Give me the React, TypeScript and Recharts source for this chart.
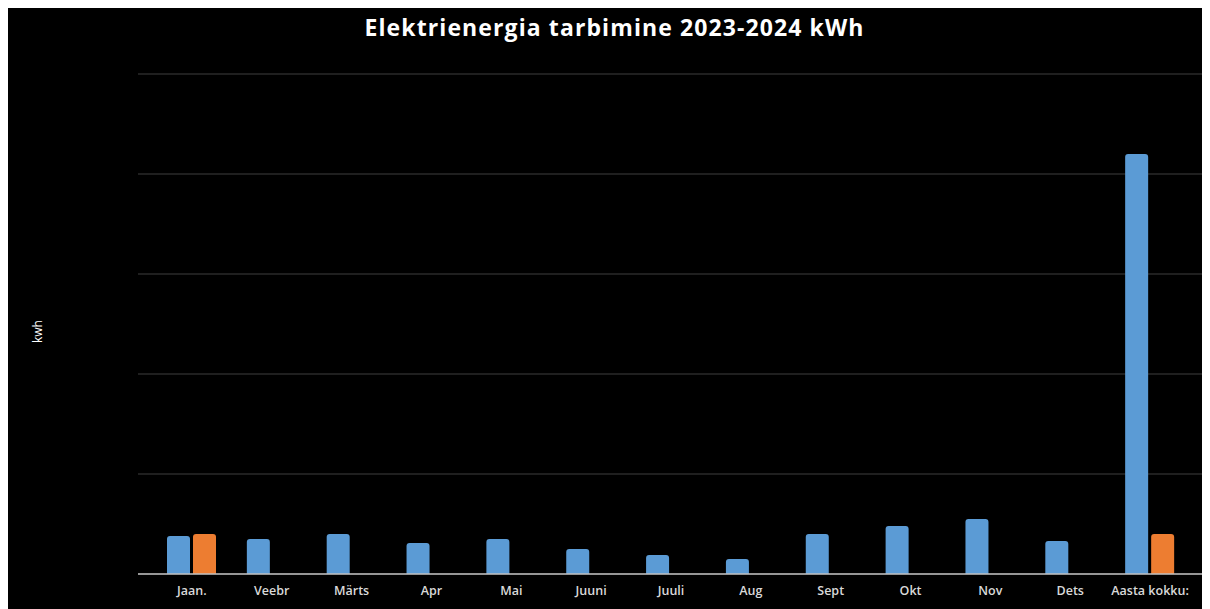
import React from "react"
import { BarChart, Bar, XAxis, YAxis, CartesianGrid } from "recharts"

// months + yearly total
const categories = [
  "Jaan.", "Veebr", "Märts", "Apr", "Mai", "Juuni", "Juuli",
  "Aug", "Sept", "Okt", "Nov", "Dets", "Aasta kokku:",
]

// 2023 (blue)
const values2023 = [380, 350, 400, 310, 350, 250, 190, 150, 400, 480, 550, 330, 4200]
// 2024 (orange) – only January so far
const values2024 = [400, null, null, null, null, null, null, null, null, null, null, null, 400]

const yTicks = [0, 1000, 2000, 3000, 4000, 5000]

const data = categories.map((name, i) => ({
  name,
  y2023: values2023[i],
  y2024: values2024[i],
}))

export default function App() {
  return (
    <div style={{ position: "relative", width: 1201, height: 602, background: "#000" }}>
      <div
        style={{
          position: "absolute",
          top: 3,
          left: 6,
          width: "100%",
          textAlign: "center",
          color: "#fff",
          fontFamily: "'Open Sans', sans-serif",
          fontWeight: 700,
          fontSize: 23,
          letterSpacing: 1.1,
        }}
      >
        Elektrienergia tarbimine 2023-2024 kWh
      </div>
      <div
        style={{
          position: "absolute",
          left: 17,
          top: 315,
          width: 24,
          textAlign: "center",
          transform: "rotate(-90deg)",
          color: "#fff",
          fontFamily: "'Open Sans', sans-serif",
          fontSize: 12,
        }}
      >
        kwh
      </div>
      <BarChart
        width={1201}
        height={601}
        data={data}
        margin={{ top: 66, right: 6, bottom: 6, left: 0 }}
        barSize={23}
        barGap={3}
      >
        <CartesianGrid vertical={false} stroke="#3f3f3f" />
        <XAxis
          dataKey="name"
          height={29}
          padding={{ left: 14, right: 13 }}
          tickLine={false}
          axisLine={{ stroke: "#bfbfbf", strokeWidth: 1.5 }}
          tick={{ fill: "#d9d9d9", fontSize: 12.5, fontFamily: "'Open Sans', sans-serif", fontWeight: 600, dy: 4 }}
          interval={0}
        />
        <YAxis
          width={130}
          domain={[0, 5000]}
          ticks={yTicks}
          tick={{ fill: "transparent" }}
          axisLine={false}
          tickLine={false}
        />
        <Bar dataKey="y2023" fill="#5b9bd5" radius={[3, 3, 0, 0]} isAnimationActive={false} />
        <Bar dataKey="y2024" fill="#ed7d31" radius={[3, 3, 0, 0]} isAnimationActive={false} />
      </BarChart>
    </div>
  )
}
